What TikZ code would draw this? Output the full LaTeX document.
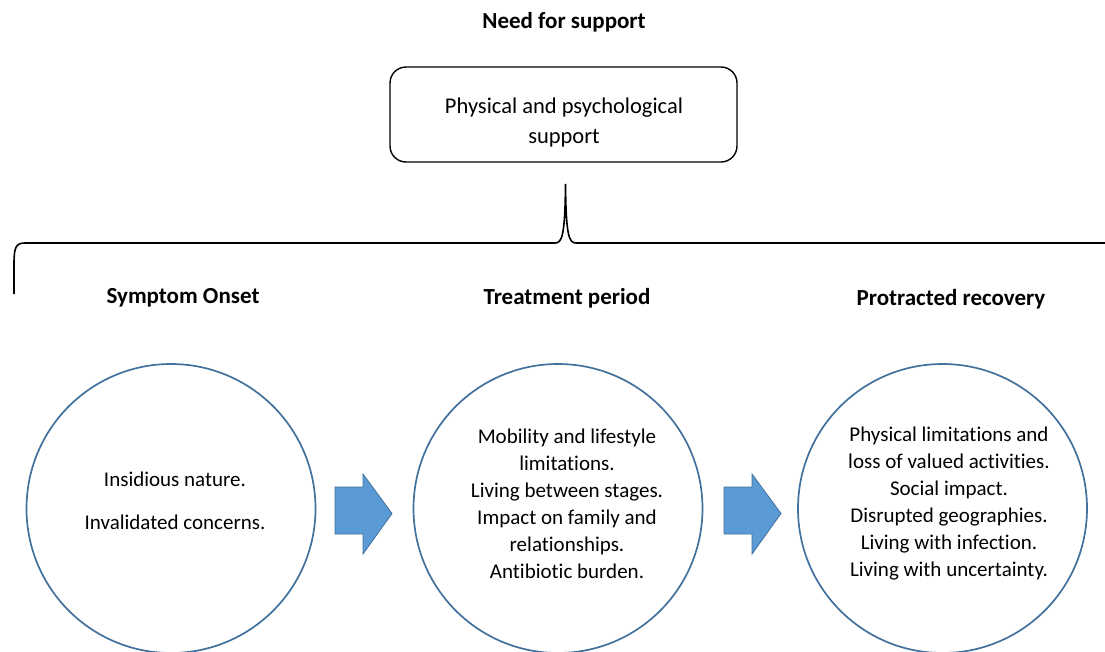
\documentclass[tikz,border=0pt]{standalone}
\usepackage{fontspec}
\setmainfont{Carlito}[Ligatures={NoCommon,TeX}]
\definecolor{cstroke}{HTML}{41719C}
\definecolor{afill}{HTML}{5B9BD5}
\begin{document}
\begin{tikzpicture}[x=1pt,y=-1pt,
  heading/.style={font=\fontsize{23}{28}\selectfont\bfseries, inner sep=0pt},
  boxtext/.style={font=\fontsize{22.5}{30}\selectfont, align=center, inner sep=0pt},
  circtext/.style={font=\fontsize{21}{27}\selectfont, align=center, inner sep=0pt},
  phase/.style={circle, draw=cstroke, line width=1.7pt, minimum size=289pt, inner sep=0pt},
  blockarrow/.style={fill=afill, draw=cstroke, line width=0.8pt, line join=miter},
  bracket/.style={line width=1.6pt, line cap=butt}
]
\useasboundingbox (0,0) rectangle (1105,651);
% title and top box
\node[heading] (title) at (564,22) {Need for support};
\node[draw, rounded corners=16pt, line width=1.4pt, minimum width=347pt, minimum height=95pt] (supp) at (563.5,114.5) {};
\node[boxtext] (supptext) at (564,122) {Physical and psychological\\support};
% brace
\coordinate (bl) at (14,294);
\coordinate (btip) at (565.5,184);
\coordinate (br) at (1110,243);
\draw[bracket] (bl) -- (14,264) .. controls (14,247) and (16,243) .. (25,243) -- (555,243)
  .. controls (562,243) and (565,236) .. (btip)
  .. controls (566,236) and (569,243) .. (576,243) -- (br);
% headings
\node[heading] (h1) at (183,298) {Symptom Onset};
\node[heading] (h2) at (567,298) {Treatment period};
\node[heading] (h3) at (951,299) {Protracted recovery};
% circles
\node[phase] (c1) at (171,508.5) {};
\node[phase] (c2) at (558,508.5) {};
\node[phase] (c3) at (942.5,508.5) {};
\node[circtext] (t1) at (175,501) {Insidious nature.\\[16pt]Invalidated concerns.};
\node[circtext] (t2) at (567,504) {Mobility and lifestyle\\limitations.\\Living between stages.\\Impact on family and\\relationships.\\Antibiotic burden.};
\node[circtext] (t3) at (949,504) {Physical limitations and\\loss of valued activities.\\Social impact.\\Disrupted geographies.\\Living with infection.\\Living with uncertainty.};
% block arrows
\draw[blockarrow] (335,487) -- (363,487) -- (363,474) -- (392,513.5) -- (363,554) -- (363,534) -- (335,534) -- cycle;
\draw[blockarrow] (724,487) -- (752,487) -- (752,474) -- (781,513.5) -- (752,554) -- (752,534) -- (724,534) -- cycle;
\end{tikzpicture}
\end{document}
